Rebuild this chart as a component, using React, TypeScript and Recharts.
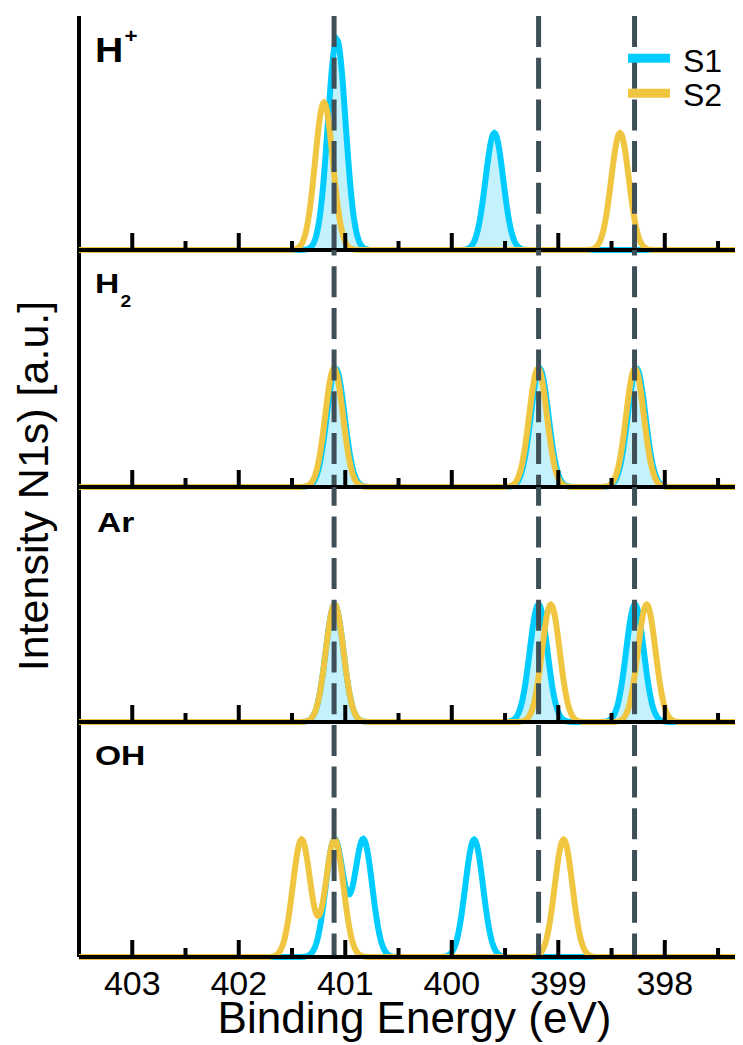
import React from 'react';
import { ComposedChart, Area, Line, XAxis, YAxis, ReferenceLine, Legend } from 'recharts';

// ---- data ----
// peaks: [centre (eV), height (a.u.)]
const s1Hplus: number[][] = [[401.08, 1.8], [399.6, 1.0]];
const s2Hplus: number[][] = [[401.2, 1.26], [398.42, 1.0]];
const s1H2: number[][] = [[401.09, 1.0], [399.175, 1.0], [398.265, 1.0]];
const s2H2: number[][] = [[401.105, 1.0], [399.19, 1.0], [398.28, 1.0]];
const s1Ar: number[][] = [[401.1, 1.0], [399.185, 1.0], [398.28, 1.0]];
const s2Ar: number[][] = [[401.1, 1.0], [399.07, 1.0], [398.17, 1.0]];
const s1OH: number[][] = [[401.1, 1.0], [400.83, 1.0], [399.79, 1.0]];
const s2OH: number[][] = [[401.41, 1.0], [401.1, 1.0], [398.95, 1.0]];
const peakSigma = 0.083; // eV
const refLines = [401.105, 399.185, 398.284];
const majorTicks = [403, 402, 401, 400, 399, 398];
const minorTicks = [402.5, 401.5, 400.5, 399.5, 398.5, 397.5];
const xDomain: [number, number] = [397.2, 403.5];
const seriesNames = ['S1', 'S2'];
const panelNames = ['H', 'H', 'Ar', 'OH'];
const panelMarks = ['+', '2', '', ''];
const panelFilled = [true, true, true, false];

// ---- styling ----
const CYAN = '#00CCFF';
const YELLOW = '#F0C540';
const DASH = '#3F4F57';
const FONT = '"Liberation Sans", Arial, Helvetica, sans-serif';
const W = 800;
const ML = 71;
const MR = 58;
const panelTops = [8, 242, 479, 714];
const panelHeights = [234, 237, 235, 235];
const labelBase = [46, 43, 44.7, 43];
const DASH_ON = 31;
const DASH_PERIOD = 41.7;

const allTicks = [...majorTicks, ...minorTicks].sort((a, b) => b - a);

function spectrum(peaks: number[][], e: number) {
  let v = 0;
  for (const [c, h] of peaks) v += h * Math.exp(-((e - c) * (e - c)) / (2 * peakSigma * peakSigma));
  return v;
}

function buildRows(s1: number[][], s2: number[][]) {
  const rows: { e: number; s1: number; s2: number }[] = [];
  const n = Math.round((xDomain[1] - xDomain[0]) / 0.01);
  for (let i = 0; i <= n; i++) {
    const e = Math.round((xDomain[0] + i * 0.01) * 1000) / 1000;
    rows.push({ e, s1: spectrum(s1, e), s2: spectrum(s2, e) });
  }
  return rows;
}

const panelData = [
  buildRows(s1Hplus, s2Hplus),
  buildRows(s1H2, s2H2),
  buildRows(s1Ar, s2Ar),
  buildRows(s1OH, s2OH),
];

// dash phase so the pattern runs continuously from the top of panel 1
function dashOffset(k: number) {
  const bottom = panelTops[k] + panelHeights[k] - panelTops[0];
  let o = DASH_ON - (bottom % DASH_PERIOD);
  o = ((o % DASH_PERIOD) + DASH_PERIOD) % DASH_PERIOD;
  return o;
}

const makeTick = (showLabels: boolean) => (props: any) => {
  const { x, y, payload } = props;
  const v = payload.value;
  const major = majorTicks.includes(v);
  const len = major ? 17 : 9;
  return (
    <g>
      <line x1={x} x2={x} y1={y} y2={y - len} stroke="#000" strokeWidth={4} />
      {showLabels && major ? (
        <text x={x} y={y + 38} textAnchor="middle" fontSize={34} fontFamily={FONT} fill="#000">
          {v}
        </text>
      ) : null}
    </g>
  );
};

const LegendBox = () => (
  <svg width={130} height={90} style={{ display: 'block' }}>
    <line x1={10} x2={52} y1={22.3} y2={22.3} stroke={CYAN} strokeWidth={9} />
    <line x1={10} x2={52} y1={57.3} y2={57.3} stroke={YELLOW} strokeWidth={9} />
    <text x={65} y={36} fontSize={32} fontFamily={FONT} fill="#000">{seriesNames[0]}</text>
    <text x={65} y={70} fontSize={32} fontFamily={FONT} fill="#000">{seriesNames[1]}</text>
  </svg>
);

function PanelLabel({ k }: { k: number }) {
  const size = k === 0 ? 35 : 28;
  const sx = k === 0 ? 1.12 : 1.2;
  const x = k === 2 ? 89 : 87;
  return (
    <text
      transform={`translate(${x},${labelBase[k]}) scale(${sx},1)`}
      x={0}
      y={0}
      fontSize={size}
      fontWeight="bold"
      fontFamily={FONT}
      fill="#000"
    >
      {panelNames[k]}
      {k === 0 ? (
        <tspan fontSize={20} dy={-19} dx={1}>{panelMarks[k]}</tspan>
      ) : null}
      {k === 1 ? (
        <tspan fontSize={16} dy={14} dx={1}>{panelMarks[k]}</tspan>
      ) : null}
    </text>
  );
}

function Panel({ k }: { k: number }) {
  const last = k === 3;
  const axisH = last ? 88 : 6;
  return (
    <div style={{ position: 'absolute', left: 0, top: panelTops[k] }}>
      <ComposedChart
        width={W}
        height={panelHeights[k] + axisH}
        data={panelData[k]}
        margin={{ top: 0, right: MR, bottom: 0, left: ML }}
      >
        <YAxis hide type="number" domain={[0, 2]} />
        <Area
          type="linear"
          dataKey="s1"
          name={seriesNames[0]}
          stroke={CYAN}
          strokeWidth={6}
          fill={panelFilled[k] ? '#BDEFFC' : 'none'}
          fillOpacity={panelFilled[k] ? 0.9 : 0}
          dot={false}
          activeDot={false}
          isAnimationActive={false}
        />
        <Line
          type="linear"
          dataKey="s2"
          name={seriesNames[1]}
          stroke={YELLOW}
          strokeWidth={6}
          dot={false}
          activeDot={false}
          isAnimationActive={false}
        />
        <XAxis
          dataKey="e"
          type="number"
          domain={xDomain}
          reversed
          ticks={allTicks}
          interval={0}
          tickSize={0}
          tickMargin={0}
          tickLine={false}
          tick={makeTick(last)}
          axisLine={{ stroke: '#000', strokeWidth: 4 }}
          height={axisH}
          label={
            last
              ? {
                  value: 'Binding Energy (eV)',
                  position: 'insideBottom',
                  offset: 12,
                  fontSize: 44,
                  fontFamily: FONT,
                  fill: '#000',
                }
              : undefined
          }
        />
        {refLines.map((x) => (
          <ReferenceLine
            key={x}
            x={x}
            stroke={DASH}
            strokeWidth={5}
            strokeDasharray={`${DASH_ON} ${DASH_PERIOD - DASH_ON}`}
            strokeDashoffset={dashOffset(k)}
          />
        ))}
        {k === 0 ? (
          <Legend
            layout="horizontal"
            verticalAlign="middle"
            align="center"
            wrapperStyle={{ left: 610, top: 20, width: 130, height: 90 }}
            content={() => <LegendBox />}
          />
        ) : null}
        <PanelLabel k={k} />
      </ComposedChart>
    </div>
  );
}

export default function App() {
  return (
    <div style={{ position: 'relative', width: 735, height: 1037, overflow: 'hidden', background: '#fff' }}>
      <div style={{ position: 'absolute', left: 0, top: 0, pointerEvents: 'none' }}>
        <ComposedChart
          width={W}
          height={955}
          data={[{ e: 400, v: 0.5 }]}
          margin={{ top: 8, right: MR, bottom: 6, left: 0 }}
        >
          <XAxis
            orientation="top"
            dataKey="e"
            type="number"
            domain={xDomain}
            reversed
            height={0}
            tick={false}
            tickLine={false}
            axisLine={{ stroke: '#000', strokeWidth: 4 }}
          />
          <YAxis
            width={ML}
            type="number"
            domain={[0, 1]}
            tick={false}
            tickLine={false}
            axisLine={{ stroke: '#000', strokeWidth: 4 }}
          />
          <text
            x={40}
            y={478}
            transform="rotate(-90, 40, 478)"
            textAnchor="middle"
            fontSize={43}
            fontFamily={FONT}
            fill="#000"
          >
            Intensity N1s) [a.u.]
          </text>
        </ComposedChart>
      </div>
      {[0, 1, 2, 3].map((k) => (
        <Panel key={k} k={k} />
      ))}
    </div>
  );
}
